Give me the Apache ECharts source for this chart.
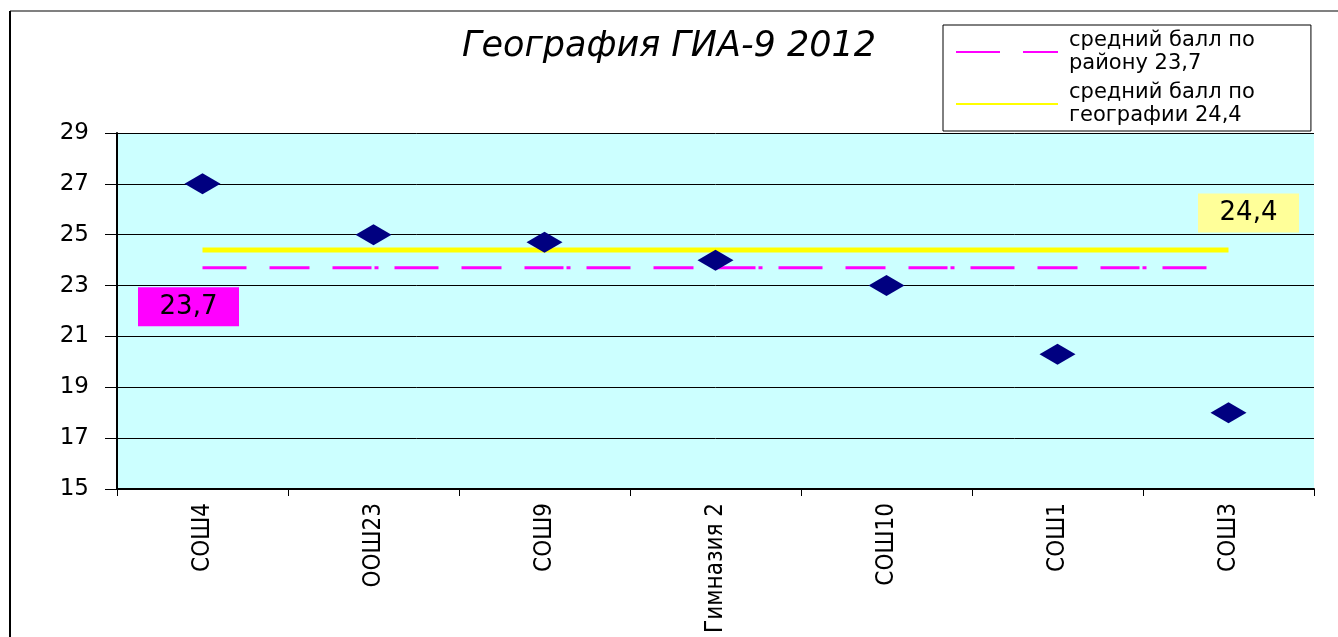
<!DOCTYPE html>
<html>
<head>
<meta charset="utf-8">
<script src="https://cdn.jsdelivr.net/npm/echarts@6/dist/echarts.min.js"></script>
<style>
html,body{margin:0;padding:0;background:#fff;}
#chart{width:1338px;height:637px;}
</style>
</head>
<body>
<div id="chart"></div>
<script>
// ---- data ----
const categories = ['СОШ4', 'ООШ23', 'СОШ9', 'Гимназия 2', 'СОШ10', 'СОШ1', 'СОШ3'];
const schoolScores = [27, 25, 24.7, 24, 23, 20.3, 18];
const districtAvg = [23.7, 23.7, 23.7, 23.7, 23.7, 23.7, 23.7];
const subjectAvg = [24.4, 24.4, 24.4, 24.4, 24.4, 24.4, 24.4];
const districtName = 'средний балл по\nрайону 23,7';
const subjectName = 'средний балл по\nгеографии 24,4';
const districtLabel = '23,7';
const subjectLabel = '24,4';
const yTicks = { min: 15, max: 29, interval: 2 };
const titleText = 'География ГИА-9 2012';

const chart = echarts.init(document.getElementById('chart'));
const numFont = "'DejaVu Sans', Verdana, sans-serif";
const catFont = "'DejaVu Sans Condensed', 'Liberation Sans Narrow', 'Liberation Sans', sans-serif";
const last = categories.length - 1;

chart.setOption({
  animation: false,
  backgroundColor: '#ffffff',
  title: {
    text: titleText,
    left: 'center',
    top: 24,
    textStyle: { fontFamily: numFont, fontStyle: 'italic', fontWeight: 'normal', fontSize: 35, color: '#000' }
  },
  legend: {
    data: [districtName, subjectName],
    orient: 'vertical',
    left: 943,
    top: 25,
    padding: [4, 56, 4, 12],
    itemGap: 6,
    itemWidth: 102,
    itemHeight: 10,
    borderColor: '#000',
    borderWidth: 1,
    backgroundColor: '#fff',
    itemStyle: { opacity: 0 },
    textStyle: { fontFamily: numFont, fontSize: 21, color: '#000', lineHeight: 23, padding: [0, 0, 0, 6] }
  },
  grid: {
    left: 117, right: 24, top: 133, bottom: 148,
    outerBoundsMode: 'none',
    containLabel: false,
    show: true, backgroundColor: '#CCFFFF', borderWidth: 0
  },
  xAxis: {
    type: 'category',
    data: categories,
    boundaryGap: true,
    axisLine: { lineStyle: { color: '#000', width: 2 } },
    axisTick: { show: true, length: 7, lineStyle: { color: '#000', width: 1 } },
    axisLabel: { rotate: 90, margin: 14, fontFamily: catFont, fontSize: 24, color: '#000' },
    splitLine: { show: false }
  },
  yAxis: {
    type: 'value',
    min: yTicks.min, max: yTicks.max, interval: yTicks.interval,
    axisLine: { show: true, lineStyle: { color: '#000', width: 2 } },
    axisTick: { show: true, length: 12, lineStyle: { color: '#000', width: 1 } },
    axisLabel: { margin: 28, fontFamily: numFont, fontSize: 23, color: '#000' },
    splitLine: { show: true, lineStyle: { color: '#000', width: 1 } }
  },
  series: [
    {
      name: districtName,
      type: 'line',
      data: districtAvg,
      symbol: 'none',
      z: 3,
      lineStyle: { color: '#FF00FF', width: 3, type: [44, 23, 40, 23, 39, 3, 4, 16], cap: 'butt' },
      itemStyle: { color: '#FF00FF' },
      markPoint: {
        symbol: 'rect',
        symbolSize: [101, 39],
        symbolOffset: [-14, 39],
        itemStyle: { color: '#FF00FF' },
        label: { show: true, position: 'inside', formatter: districtLabel, fontFamily: numFont, fontSize: 26, color: '#000' },
        data: [{ coord: [categories[0], districtAvg[0]] }]
      }
    },
    {
      name: subjectName,
      type: 'line',
      data: subjectAvg,
      symbol: 'none',
      z: 3,
      lineStyle: { color: '#FFFF00', width: 5 },
      itemStyle: { color: '#FFFF00' },
      markPoint: {
        symbol: 'rect',
        symbolSize: [101, 39],
        symbolOffset: [20, -37],
        itemStyle: { color: '#FFFF99' },
        label: { show: true, position: 'inside', formatter: subjectLabel, fontFamily: numFont, fontSize: 26, color: '#000' },
        data: [{ coord: [categories[last], subjectAvg[last]] }]
      }
    },
    {
      name: 'Баллы',
      type: 'scatter',
      data: schoolScores,
      symbol: 'diamond',
      symbolSize: [36, 21],
      z: 4,
      itemStyle: { color: '#000080', opacity: 1 }
    }
  ],
  graphic: [
    { type: 'line', shape: { x1: 10, y1: 11, x2: 1338, y2: 11 }, style: { stroke: '#808080', lineWidth: 2 }, silent: true },
    { type: 'line', shape: { x1: 10, y1: 11, x2: 10, y2: 637 }, style: { stroke: '#000', lineWidth: 2 }, silent: true }
  ]
});
</script>
</body>
</html>
